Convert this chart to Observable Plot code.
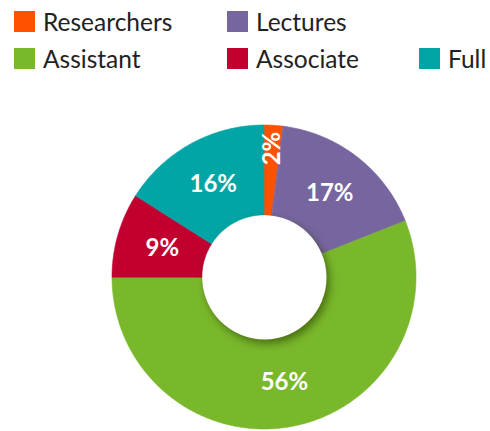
<!DOCTYPE html>
<html>
<head>
<meta charset="utf-8">
<script src="https://cdn.jsdelivr.net/npm/d3@7"></script>
<script src="https://cdn.jsdelivr.net/npm/@observablehq/plot@0.6"></script>
<style>
  html, body { margin: 0; padding: 0; background: #fff; }
  body { width: 490px; height: 431px; overflow: hidden; font-family: Lato, "Noto Sans", sans-serif; }
  .legend { position: relative; height: 80px; }
  .item { position: absolute; display: flex; align-items: center; font-size: 24.5px; color: #222; line-height: 21px; }
  .sw { width: 21px; height: 21px; margin-right: 8px; flex: none; }
  #chart svg { display: block; }
  .hole { filter: drop-shadow(3px 4px 4px rgba(40, 60, 0, 0.6)); }
</style>
</head>
<body>
<div class="legend" id="legend"></div>
<div id="chart"></div>
<script>
// Data
const categories = ["Researchers", "Lectures", "Assistant", "Associate", "Full"];
const values = [2, 17, 56, 9, 16];
const colors = ["#FF5200", "#7765A0", "#79B82B", "#C10030", "#02A5A6"];

const legendPos = [[14, 11], [227, 11], [14, 48], [227, 48], [419, 48]];

// Legend
const legend = document.getElementById("legend");
const legendOrder = ["Researchers", "Lectures", "Assistant", "Associate", "Full"];
legendOrder.forEach((c, i) => {
  const el = document.createElement("div");
  el.className = "item";
  el.style.left = legendPos[i][0] + "px";
  el.style.top = legendPos[i][1] + "px";
  const sw = document.createElement("span");
  sw.className = "sw";
  sw.style.background = colors[categories.indexOf(c)];
  el.appendChild(sw);
  const t = document.createElement("span");
  t.textContent = c;
  el.appendChild(t);
  legend.appendChild(el);
});

// Geometry derived from data
const R = 1, r0 = 62 / 152;
const total = d3.sum(values);
const pie = d3.pie().sort(null).value(d => d.value)(categories.map((c, i) => ({category: c, value: values[i]})));
const ring = [];
pie.forEach(p => {
  const n = Math.max(2, Math.ceil((p.endAngle - p.startAngle) / (Math.PI / 360)));
  for (let k = 0; k <= n; k++) {
    const a = p.startAngle + (p.endAngle - p.startAngle) * k / n;
    ring.push({category: p.data.category, x1: R * Math.sin(a), y1: R * Math.cos(a), x2: r0 * Math.sin(a), y2: r0 * Math.cos(a)});
  }
});
const labels = pie.map(p => {
  const a = (p.startAngle + p.endAngle) / 2;
  const small = p.data.value < 5;
  const rr = small ? 0.85 : 0.70;
  return {category: p.data.category, label: Math.round(p.data.value / total * 100) + "%", x: rr * Math.sin(a), y: rr * Math.cos(a), rot: small ? -90 : 0};
});

const plot = Plot.plot({
  width: 490,
  height: 351,
  margin: 0,
  x: {domain: [-1, 1], range: [112, 416], axis: null},
  y: {domain: [-1, 1], range: [349, 45], axis: null},
  color: {domain: categories, range: colors},
  marks: [
    Plot.area(ring, {x1: "x1", y1: "y1", x2: "x2", y2: "y2", z: "category", fill: "category", stroke: "category", strokeWidth: 0.6}),
    Plot.dot([{x: 0, y: 0}], {x: "x", y: "y", r: 62, fill: "white", stroke: "none"}),
    Plot.text(labels, {x: "x", y: "y", text: "label", rotate: "rot", fill: "white", fontSize: 24, fontWeight: "bold", fontFamily: "Lato, 'Noto Sans', sans-serif"})
  ]
});
document.getElementById("chart").appendChild(plot);
d3.select(plot).selectAll("circle").classed("hole", true);
</script>
</body>
</html>
